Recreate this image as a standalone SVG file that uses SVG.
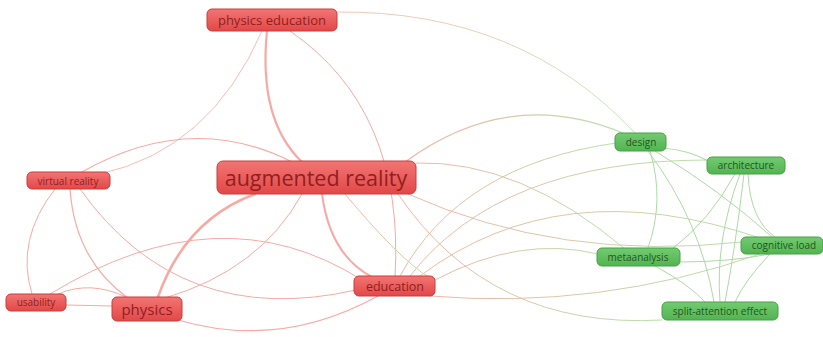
<svg xmlns="http://www.w3.org/2000/svg" width="823" height="337" viewBox="0 0 823 337">
<defs>
<linearGradient id="gr" x1="0" y1="0" x2="0" y2="1"><stop offset="0" stop-color="#f27573"/><stop offset="1" stop-color="#e24848"/></linearGradient>
<linearGradient id="gg" x1="0" y1="0" x2="0" y2="1"><stop offset="0" stop-color="#74ca72"/><stop offset="1" stop-color="#52b451"/></linearGradient>
<linearGradient id="rg" x1="0" y1="0" x2="1" y2="0"><stop offset="0" stop-color="#f6b4a6"/><stop offset="1" stop-color="#b7dfac"/></linearGradient>
<style>
.e{fill:none;stroke-linecap:round}
.r{stroke:#f6aaa3}
.g{stroke:#addaa4}
.x{stroke:url(#rg)}
.rn rect{fill:url(#gr);stroke:#cc3a3a;stroke-width:1}
.gn rect{fill:url(#gg);stroke:#44a243;stroke-width:1}
.rn text{fill:#921e1e;font-family:"Open Sans","DejaVu Sans",sans-serif;text-anchor:middle}
.gn text{fill:#22561f;font-family:"Open Sans","DejaVu Sans",sans-serif;text-anchor:middle;font-size:10px}
</style>
</defs>
<rect width="823" height="337" fill="#ffffff"/>
<g id="connectors">
<path class="e r" stroke-width="2.2" d="M267,31 Q258,120 302,162"/>
<path class="e r" stroke-width="1" d="M290,31 Q405,110 395,277"/>
<path class="e r" stroke-width="0.8" d="M262,31 Q210,150 100,174"/>
<path class="e r" stroke-width="1.2" d="M80,173 Q190,110 292,162"/>
<path class="e r" stroke-width="1" d="M55,189 Q15,240 32,294"/>
<path class="e r" stroke-width="1.2" d="M70,189 Q75,260 128,298"/>
<path class="e r" stroke-width="1" d="M80,189 Q180,330 356,290"/>
<path class="e r" stroke-width="1" d="M50,294 Q220,190 362,280"/>
<path class="e r" stroke-width="1" d="M58,294 Q90,280 126,297"/>
<path class="e r" stroke-width="1.2" d="M66,305 L112,306"/>
<path class="e r" stroke-width="2.6" d="M158,297 Q185,220 255,194"/>
<path class="e r" stroke-width="1" d="M165,298 Q260,270 302,194"/>
<path class="e r" stroke-width="1.2" d="M178,320 Q280,350 378,296"/>
<path class="e r" stroke-width="2" d="M322,194 Q330,255 372,277"/>
<path class="e x" stroke-width="0.8" d="M337,12 Q520,10 635,133"/>
<path class="e x" stroke-width="1.2" d="M405,162 Q510,85 625,134"/>
<path class="e x" stroke-width="1" d="M416,163 Q520,160 625,249"/>
<path class="e x" stroke-width="1" d="M400,276 Q460,165 616,143"/>
<path class="e x" stroke-width="1" d="M410,276 Q500,160 707,160"/>
<path class="e x" stroke-width="1" d="M408,194 Q560,262 742,242"/>
<path class="e x" stroke-width="1" d="M398,194 Q490,330 662,320"/>
<path class="e x" stroke-width="1" d="M435,280 Q520,235 598,254"/>
<path class="e x" stroke-width="1" d="M420,276 Q560,170 760,238"/>
<path class="e x" stroke-width="1" d="M430,296 Q600,310 760,254"/>
<path class="e x" stroke-width="1" d="M345,194 Q400,260 430,278"/>
<path class="e g" stroke-width="1.2" d="M662,148 Q690,150 710,162"/>
<path class="e g" stroke-width="1" d="M650,151 Q665,200 648,248"/>
<path class="e g" stroke-width="1" d="M648,151 Q700,220 714,302"/>
<path class="e g" stroke-width="1" d="M655,151 Q720,190 772,237"/>
<path class="e g" stroke-width="1" d="M735,174 Q710,220 672,249"/>
<path class="e g" stroke-width="1" d="M740,174 Q715,240 720,302"/>
<path class="e g" stroke-width="1" d="M744,174 Q735,250 725,302"/>
<path class="e g" stroke-width="1" d="M748,174 Q750,220 775,237"/>
<path class="e g" stroke-width="1" d="M680,262 Q730,262 770,254"/>
<path class="e g" stroke-width="1" d="M655,266 Q690,285 705,302"/>
<path class="e g" stroke-width="1" d="M770,254 Q745,280 735,302"/>
</g>
<g id="node-physics-education" class="rn"><rect x="207" y="9" width="130" height="22" rx="5"/><text x="272" y="25" font-size="13">physics education</text></g>
<g id="node-augmented-reality" class="rn"><rect x="217" y="161" width="199" height="33" rx="6"/><text x="316" y="186" font-size="21.5">augmented reality</text></g>
<g id="node-virtual-reality" class="rn"><rect x="27" y="172" width="83" height="17" rx="5"/><text x="68" y="185" font-size="10">virtual reality</text></g>
<g id="node-usability" class="rn"><rect x="6" y="294" width="60" height="17" rx="5"/><text x="36" y="306" font-size="10">usability</text></g>
<g id="node-physics" class="rn"><rect x="112" y="297" width="70" height="24" rx="5"/><text x="147" y="315" font-size="15">physics</text></g>
<g id="node-education" class="rn"><rect x="354" y="276" width="81" height="20" rx="5"/><text x="395" y="291" font-size="12.5">education</text></g>
<g id="node-design" class="gn"><rect x="615" y="133" width="51" height="18" rx="5"/><text x="641" y="146">design</text></g>
<g id="node-architecture" class="gn"><rect x="707" y="157" width="78" height="17" rx="5"/><text x="746" y="169">architecture</text></g>
<g id="node-cognitive-load" class="gn"><rect x="741" y="237" width="82" height="17" rx="5"/><text x="784" y="249">cognitive load</text></g>
<g id="node-metaanalysis" class="gn"><rect x="597" y="248" width="83" height="18" rx="5"/><text x="638" y="261">metaanalysis</text></g>
<g id="node-split-attention-effect" class="gn"><rect x="662" y="302" width="116" height="18" rx="5"/><text x="720" y="315">split-attention effect</text></g>
</svg>
